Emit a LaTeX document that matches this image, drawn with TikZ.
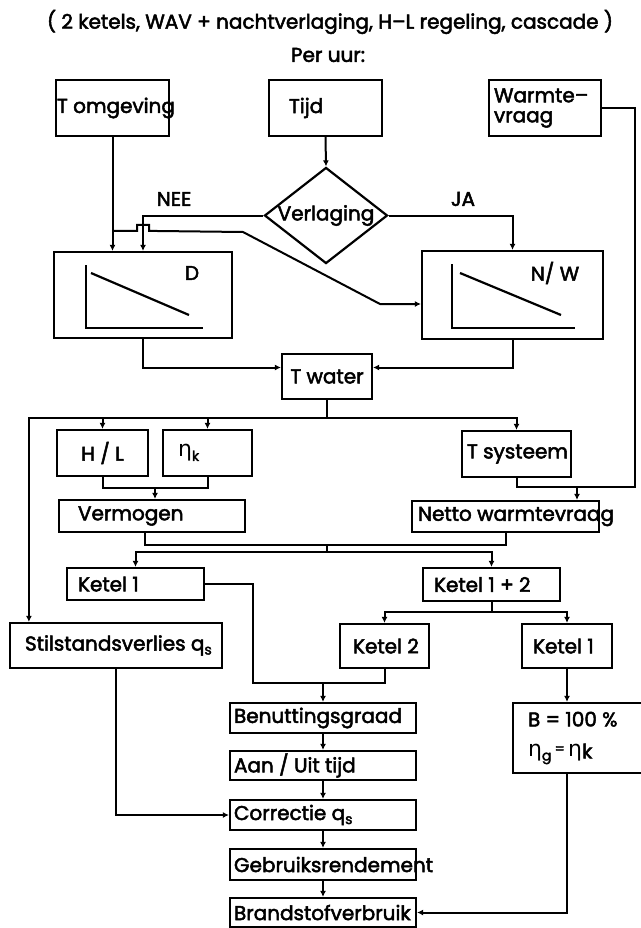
\documentclass[tikz,border=0pt]{standalone}
\usepackage{fontspec}
\setmainfont{Poppins}[FakeBold=2.5]
\newfontfamily\grk{DejaVu Sans}
\usetikzlibrary{arrows.meta,shapes.geometric,calc}
\newcommand\dfont{\fontsize{20}{22}\selectfont}
\newcommand\subs[1]{\raisebox{-4pt}{\fontsize{14}{14}\selectfont #1}}
\newcommand\etaa{{\grk\fontsize{22}{22}\selectfont η}}
\newcommand\lt[2]{\makebox[#1][l]{#2}}
\newcommand\lo[2]{\raisebox{-3pt}{\makebox[#1][l]{#2}}}
\tikzset{
  box/.style={draw, line width=2.2pt, inner ysep=0pt, align=left},
  ln/.style={line width=2pt},
  arr/.style={line width=2pt, -{Latex[length=6pt,width=6pt]}},
  plot/.style={line width=2.2pt}
}
\begin{document}
\begin{tikzpicture}[x=1pt,y=-1pt, every node/.style={font=\dfont}]
\useasboundingbox (0,0) rectangle (640,928);

% titles
\node (title) at (330,22) {( 2 ketels, WAV + nachtverlaging, H–L regeling, cascade )};
\node (peruur) at (328,55) {Per uur:};

% top row
\node[box, minimum width=113pt, minimum height=56pt, inner xsep=1pt] (tomg) at (112.5,108) {\lt{111pt}{T omgeving}};
\node[box, minimum width=113pt, minimum height=56pt, inner xsep=20pt] (tijd) at (325.5,108) {\lt{73pt}{Tijd}};
\node[box, minimum width=112pt, minimum height=56pt, inner xsep=5pt, font=\fontsize{20}{20}\selectfont] (warm) at (545,108) {\lt{102pt}{Warmte–}\\\lt{102pt}{vraag}};

% decision
\node[draw, diamond, shape aspect=1.28, minimum width=120pt, minimum height=93pt, inner sep=0pt, line width=2.2pt] (verl) at (326,215.5) {Verlaging};
\node (nee) at (174,199) {NEE};
\node (ja) at (463,199) {JA};

% curve boxes
\node[box, minimum width=178pt, minimum height=86pt, inner sep=0pt] (D) at (143,295) {};
\node[box, minimum width=181pt, minimum height=88pt, inner sep=0pt] (NW) at (512.5,295) {};
\node (dlab) at (192,273) {D};
\node (nwlab) at (555,273) {N/ W};
\draw[plot] (85.7,265) -- (85.7,328) -- (203,328);
\draw[plot] (91,273) -- (189,315);
\draw[plot] (452,264) -- (452,328) -- (575,328);
\draw[plot] (460,273) -- (561,315);

% T water
\node[box, minimum width=90pt, minimum height=45pt, inner sep=0pt] (Twater) at (327,376.5) {T water};

% second level
\node[box, minimum width=91pt, minimum height=46pt, inner sep=0pt] (HL) at (102.5,453) {H / L};
\node[box, minimum width=89pt, minimum height=46pt, inner xsep=15pt] (eta) at (207.5,453) {\lt{59pt}{\etaa\subs{k}}};
\node[box, minimum width=109pt, minimum height=46pt, inner xsep=5pt] (Tsys) at (516.5,454) {\lt{99pt}{T systeem}};
\node[box, minimum width=186pt, minimum height=32pt, inner xsep=19pt] (Verm) at (152,516) {\lt{148pt}{Vermogen}};
\node[box, minimum width=187pt, minimum height=31pt, inner xsep=6pt] (Netto) at (505.5,516.5) {\lt{175pt}{Netto warmtevraag}};

% ketels
\node[box, minimum width=137pt, minimum height=32pt, inner xsep=11pt] (K1) at (135.5,584) {\lt{115pt}{Ketel 1}};
\node[box, minimum width=137pt, minimum height=33pt, inner xsep=11pt] (K12) at (491.5,584.5) {\lt{115pt}{Ketel 1 + 2}};
\node[box, minimum width=212pt, minimum height=45pt, inner xsep=15pt] (Stil) at (116,645.5) {\lt{182pt}{Stilstandsverlies q\subs{s}}};
\node[box, minimum width=89pt, minimum height=44pt, inner xsep=13pt] (K2) at (384.5,646) {\lt{63pt}{Ketel 2}};
\node[box, minimum width=90pt, minimum height=44pt, inner xsep=11pt] (K1r) at (567,646) {\lt{68pt}{Ketel 1}};

% chain
\node[box, minimum width=186pt, minimum height=30pt, inner xsep=4pt] (Benut) at (323,718) {\lo{178pt}{Benuttingsgraad}};
\node[box, minimum width=186pt, minimum height=29pt, inner xsep=4pt] (AanUit) at (323,765.5) {\lt{178pt}{Aan / Uit tijd}};
\node[box, minimum width=186pt, minimum height=30pt, inner xsep=4pt] (Corr) at (323,815) {\lt{178pt}{Correctie q\subs{s}}};
\node[box, minimum width=186pt, minimum height=31pt, inner xsep=4pt] (Gebr) at (323,864.5) {\lt{178pt}{Gebruiksrendement}};
\node[box, minimum width=186pt, minimum height=29pt, inner xsep=4pt] (Brand) at (323,912.5) {\lt{178pt}{Brandstofverbruik}};
\node[box, minimum width=132pt, minimum height=70pt, inner xsep=15pt, font=\fontsize{20}{30}\selectfont] (Bbox) at (579,738) {\lt{102pt}{B = 100 \%}\\\lt{102pt}{\etaa\subs{g}\,\raisebox{3pt}{\fontsize{14}{14}\selectfont =}\,\etaa\raisebox{-2pt}{k}}};

% connectors top
\draw[arr] (tomg.south) -- (tomg.south |- D.north);
\draw[arr] (tijd.south) -- (verl.north);
\draw[arr] (verl.west) -| (D.north);
\draw[arr] (verl.east) -| (NW.north);
\coordinate (h0) at ($(tomg.south |- D.north)+(0,-20)$);
\draw[arr] (h0) -- ++(24.5,0) -- ++(0,-6) -- ++(12,0) -- ++(0,6) -- (243,232) -- (380,304) -- ($(NW.west)+(0,9)$);
\draw[arr] (D.south) |- ($(Twater.west)+(0,-9)$);
\draw[arr] (NW.south) |- ($(Twater.east)+(0,-9)$);

% bus under T water
\coordinate (bus) at ($(Twater.south)+(0,18)$);
\draw[ln] (Twater.south) -- (bus);
\draw[arr] (bus) -| (HL.north);
\draw[arr] (bus) -| (eta.north);
\draw[arr] (bus) -| (Tsys.north);
\draw[arr] (bus) -| ($(Stil.north west)+(20,0)$);

% to Vermogen
\draw[ln] (HL.south) -- ++(0,11) -| (eta.south);
\coordinate (jv) at ($(HL.south)!0.5!(eta.south)+(0,11)$);
\draw[arr] (jv) -- (jv |- Verm.north);

% to Netto
\draw[ln] (warm.east) -| (635,487) -- (Tsys.south |- 0,487) -- (Tsys.south);
\coordinate (nn) at ($(Netto.north)+(71.5,0)$);
\draw[arr] (nn |- 0,487) -- (nn);

% to ketels
\draw[ln] ($(Verm.south)+(-7,0)$) -- ++(0,12) -| (Netto.south);
\coordinate (j2) at (Twater.south |- 0,544);
\draw[ln] (j2) -- ++(0,8) coordinate (bus2);
\draw[arr] (bus2) -| (K1.north);
\draw[arr] (bus2) -| (K12.north);

\draw[ln] (K12.south) -- ++(0,10) coordinate (bus3);
\draw[arr] (bus3) -| (K2.north);
\draw[arr] (bus3) -| (K1r.north);

\draw[ln] (K1.east) -| (253,683) -- (K2.south |- 0,683) -- (K2.south);
\draw[arr] (Benut.north |- 0,683) -- (Benut.north);

% chain
\draw[arr] (Benut.south) -- (AanUit.north);
\draw[arr] (AanUit.south) -- (Corr.north);
\draw[arr] (Corr.south) -- (Gebr.north);
\draw[arr] (Gebr.south) -- (Brand.north);
\draw[arr] (Stil.south) |- (Corr.west);

\draw[arr] (K1r.south) -- (K1r.south |- Bbox.north);
\draw[arr] (K1r.south |- Bbox.south) |- (Brand.east);
\end{tikzpicture}
\end{document}
